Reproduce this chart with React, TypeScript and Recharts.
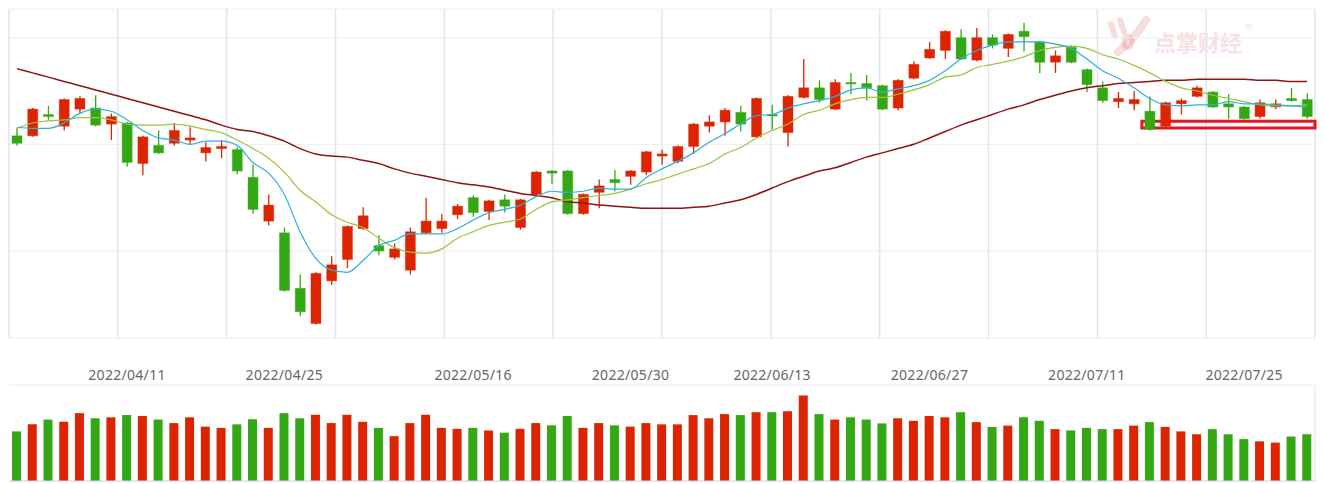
import React from 'react';
import { ComposedChart, Bar, Line, XAxis, YAxis, CartesianGrid, ReferenceArea, ReferenceLine, Cell } from 'recharts';

// trading days shown in the window
const dates = [
  '2022/03/29', '2022/03/30', '2022/03/31', '2022/04/01', '2022/04/06', '2022/04/07', '2022/04/08',
  '2022/04/11', '2022/04/12', '2022/04/13', '2022/04/14', '2022/04/15',
  '2022/04/18', '2022/04/19', '2022/04/20', '2022/04/21', '2022/04/22',
  '2022/04/25', '2022/04/26', '2022/04/27', '2022/04/28', '2022/04/29',
  '2022/05/05', '2022/05/06',
  '2022/05/09', '2022/05/10', '2022/05/11', '2022/05/12', '2022/05/13',
  '2022/05/16', '2022/05/17', '2022/05/18', '2022/05/19', '2022/05/20',
  '2022/05/23', '2022/05/24', '2022/05/25', '2022/05/26', '2022/05/27',
  '2022/05/30', '2022/05/31', '2022/06/01', '2022/06/02',
  '2022/06/06', '2022/06/07', '2022/06/08', '2022/06/09', '2022/06/10',
  '2022/06/13', '2022/06/14', '2022/06/15', '2022/06/16', '2022/06/17',
  '2022/06/20', '2022/06/21', '2022/06/22', '2022/06/23', '2022/06/24',
  '2022/06/27', '2022/06/28', '2022/06/29', '2022/06/30', '2022/07/01',
  '2022/07/04', '2022/07/05', '2022/07/06', '2022/07/07', '2022/07/08',
  '2022/07/11', '2022/07/12', '2022/07/13', '2022/07/14', '2022/07/15',
  '2022/07/18', '2022/07/19', '2022/07/20', '2022/07/21', '2022/07/22',
  '2022/07/25', '2022/07/26', '2022/07/27', '2022/07/28', '2022/07/29',
];

const tickDates = ['2022/04/11', '2022/04/25', '2022/05/16', '2022/05/30', '2022/06/13', '2022/06/27', '2022/07/11', '2022/07/25'];

const open = [
  11.08, 11.08, 11.28, 11.17, 11.33, 11.34, 11.19, 11.20, 10.82, 10.99,
  11.01, 11.04, 10.92, 10.96, 10.95, 10.69, 10.28, 10.17, 9.65, 9.32,
  9.72, 9.92, 10.21, 10.05, 9.94, 9.82, 10.17, 10.21, 10.34, 10.50,
  10.37, 10.48, 10.22, 10.53, 10.75, 10.75, 10.35, 10.55, 10.67, 10.70,
  10.74, 10.89, 10.84, 10.98, 11.17, 11.21, 11.30, 11.07, 11.28, 11.11,
  11.44, 11.53, 11.33, 11.58, 11.57, 11.55, 11.34, 11.62, 11.81, 11.88,
  12.00, 11.79, 12.00, 11.90, 12.06, 11.96, 11.77, 11.91, 11.70, 11.53,
  11.40, 11.38, 11.31, 11.17, 11.38, 11.45, 11.49, 11.38, 11.35, 11.26,
  11.35, 11.43, 11.42,
];

const high = [
  11.15, 11.34, 11.36, 11.43, 11.45, 11.46, 11.29, 11.21, 11.08, 11.13,
  11.20, 11.16, 11.02, 11.04, 10.97, 10.81, 10.53, 10.22, 9.78, 9.80,
  9.95, 10.24, 10.41, 10.15, 10.07, 10.22, 10.50, 10.35, 10.44, 10.52,
  10.48, 10.53, 10.49, 10.75, 10.76, 10.76, 10.54, 10.67, 10.76, 10.76,
  10.94, 10.95, 10.99, 11.20, 11.27, 11.34, 11.36, 11.44, 11.37, 11.46,
  11.80, 11.60, 11.61, 11.67, 11.65, 11.56, 11.61, 11.78, 11.96, 12.07,
  12.08, 12.09, 12.03, 12.04, 12.14, 11.97, 11.88, 11.93, 11.71, 11.59,
  11.49, 11.50, 11.45, 11.40, 11.43, 11.55, 11.50, 11.47, 11.36, 11.42,
  11.42, 11.53, 11.48,
];

const low = [
  10.99, 11.07, 11.23, 11.13, 11.29, 11.17, 11.04, 10.79, 10.71, 10.91,
  10.99, 11.00, 10.84, 10.87, 10.72, 10.35, 10.24, 9.62, 9.39, 9.31,
  9.68, 9.84, 10.20, 9.96, 9.92, 9.78, 10.16, 10.17, 10.30, 10.32,
  10.29, 10.36, 10.20, 10.52, 10.63, 10.34, 10.34, 10.40, 10.56, 10.62,
  10.71, 10.81, 10.82, 10.91, 11.11, 11.08, 11.12, 11.06, 11.14, 10.98,
  11.43, 11.39, 11.32, 11.47, 11.41, 11.32, 11.32, 11.61, 11.80, 11.80,
  11.79, 11.78, 11.90, 11.82, 11.87, 11.67, 11.67, 11.76, 11.49, 11.39,
  11.34, 11.32, 11.13, 11.15, 11.28, 11.44, 11.34, 11.24, 11.23, 11.24,
  11.33, 11.40, 11.24,
];

const close = [
  11.01, 11.33, 11.26, 11.42, 11.43, 11.18, 11.26, 10.83, 11.07, 10.92,
  11.13, 11.06, 10.97, 10.98, 10.75, 10.39, 10.43, 9.63, 9.43, 9.79,
  9.87, 10.23, 10.33, 10.00, 10.02, 10.18, 10.28, 10.28, 10.42, 10.36,
  10.47, 10.42, 10.48, 10.74, 10.73, 10.35, 10.53, 10.61, 10.64, 10.75,
  10.93, 10.91, 10.98, 11.19, 11.21, 11.32, 11.19, 11.43, 11.27, 11.45,
  11.53, 11.42, 11.58, 11.57, 11.53, 11.33, 11.60, 11.75, 11.89, 12.06,
  11.80, 12.00, 11.93, 12.03, 12.01, 11.77, 11.83, 11.77, 11.56, 11.41,
  11.43, 11.42, 11.14, 11.39, 11.41, 11.53, 11.35, 11.35, 11.24, 11.39,
  11.38, 11.41, 11.26,
];

const ma5 = [
  11.16, 11.15, 11.15, 11.20, 11.29, 11.33, 11.31, 11.23, 11.13, 11.06,
  11.04, 11.00, 11.03, 11.03, 10.99, 10.83, 10.73, 10.53, 10.18, 9.93,
  9.82, 9.80, 9.91, 10.05, 10.10, 10.16, 10.16, 10.16, 10.21, 10.29,
  10.36, 10.39, 10.43, 10.51, 10.56, 10.55, 10.56, 10.59, 10.58, 10.58,
  10.69, 10.77, 10.84, 10.92, 11.02, 11.10, 11.19, 11.27, 11.28, 11.34,
  11.38, 11.41, 11.45, 11.51, 11.53, 11.49, 11.52, 11.55, 11.60, 11.69,
  11.80, 11.88, 11.93, 11.96, 11.96, 11.96, 11.94, 11.90, 11.80, 11.69,
  11.62, 11.53, 11.43, 11.37, 11.36, 11.37, 11.37, 11.40, 11.38, 11.38,
  11.37, 11.36, 11.35,
];

const ma10 = [
  11.15, 11.20, 11.22, 11.23, 11.25, 11.25, 11.23, 11.19, 11.18, 11.18,
  11.19, 11.17, 11.14, 11.11, 11.04, 10.96, 10.87, 10.74, 10.57, 10.46,
  10.34, 10.27, 10.22, 10.12, 10.03, 9.99, 9.98, 10.02, 10.12, 10.18,
  10.24, 10.27, 10.30, 10.39, 10.46, 10.48, 10.50, 10.52, 10.54, 10.58,
  10.63, 10.67, 10.72, 10.77, 10.82, 10.91, 10.97, 11.06, 11.13, 11.19,
  11.28, 11.32, 11.38, 11.42, 11.44, 11.44, 11.47, 11.51, 11.56, 11.63,
  11.65, 11.72, 11.75, 11.78, 11.82, 11.88, 11.91, 11.92, 11.90, 11.84,
  11.80, 11.74, 11.67, 11.59, 11.53, 11.50, 11.46, 11.43, 11.40, 11.37,
  11.36, 11.36, 11.37,
];

const ma60 = [
  11.71, 11.67, 11.63, 11.59, 11.55, 11.51, 11.47, 11.43, 11.39, 11.35,
  11.31, 11.27, 11.23, 11.18, 11.14, 11.12, 11.08, 11.03, 10.96, 10.91,
  10.89, 10.88, 10.85, 10.82, 10.77, 10.73, 10.70, 10.67, 10.64, 10.62,
  10.60, 10.57, 10.54, 10.52, 10.50, 10.46, 10.45, 10.43, 10.42, 10.41,
  10.40, 10.40, 10.40, 10.41, 10.42, 10.45, 10.48, 10.53, 10.59, 10.65,
  10.70, 10.75, 10.78, 10.83, 10.88, 10.92, 10.96, 11.00, 11.06, 11.12,
  11.18, 11.23, 11.28, 11.33, 11.37, 11.42, 11.46, 11.50, 11.53, 11.55,
  11.57, 11.58, 11.59, 11.60, 11.60, 11.61, 11.61, 11.61, 11.61, 11.60,
  11.60, 11.59, 11.59,
];

const volume = [
  155, 177, 192, 185, 212, 196, 199, 206, 203, 192,
  181, 199, 170, 166, 177, 193, 166, 212, 196, 207,
  181, 207, 185, 166, 140, 181, 207, 166, 163, 166,
  158, 151, 163, 181, 174, 203, 166, 181, 174, 170,
  181, 177, 177, 206, 196, 209, 206, 215, 215, 218,
  267, 209, 192, 199, 192, 180, 196, 188, 203, 199,
  215, 184, 169, 173, 199, 188, 162, 158, 166, 162,
  162, 173, 184, 169, 155, 146, 162, 146, 131, 124,
  120, 139, 146,
];

const RED = '#dd2400';
const GREEN = '#33a814';
const FONT = "'Noto Sans', 'DejaVu Sans', sans-serif";

const data = dates.map((date, i) => ({
  date,
  open: open[i],
  high: high[i],
  low: low[i],
  close: close[i],
  ma5: ma5[i],
  ma10: ma10[i],
  ma60: ma60[i],
  volume: volume[i],
  up: close[i] >= open[i],
}));

// candle drawn inside the low..high range bar
const Candle = (props: any) => {
  const { x, y, width, height } = props;
  const d = props.payload ?? props;
  if (height == null || d.high === d.low) return null;
  const color = d.close >= d.open ? RED : GREEN;
  const k = height / (d.high - d.low);
  const top = y + (d.high - Math.max(d.open, d.close)) * k;
  const h = Math.max(Math.abs(d.open - d.close) * k, 1.5);
  const cx = x + width / 2;
  return (
    <g>
      <line x1={cx} x2={cx} y1={y} y2={y + height} stroke={color} strokeWidth={1.3} />
      <rect x={x} y={top} width={width} height={h} fill={color} stroke={color} strokeOpacity={0.4} strokeWidth={1} />
    </g>
  );
};

const Watermark = () => (
  <div style={{ position: 'absolute', left: 1106, top: 14, display: 'flex', alignItems: 'center', color: 'rgba(214,90,90,0.2)' }}>
    <svg width={46} height={44} viewBox="0 0 46 44">
      <g stroke="rgba(214,90,90,0.2)" strokeLinecap="round" fill="none">
        <line x1={5} y1={10} x2={9} y2={22} strokeWidth={6} />
        <line x1={14} y1={6} x2={18} y2={18} strokeWidth={6} />
        <path d="M40 6 C 32 20, 22 30, 12 38" strokeWidth={8} />
        <ellipse cx={22} cy={28} rx={4} ry={6} strokeWidth={5} />
      </g>
    </svg>
    <span style={{ fontFamily: "'Noto Sans CJK SC', sans-serif", fontSize: 22, fontWeight: 700, marginLeft: 2, marginTop: 10 }}>点掌财经</span>
    <span style={{ fontFamily: FONT, fontSize: 10, alignSelf: 'flex-start', marginTop: 6, marginLeft: 2 }}>®</span>
  </div>
);

export default function App() {
  return (
    <div style={{ position: 'absolute', left: 0, top: 0, width: 1325, height: 484, background: '#fff', fontFamily: FONT }}>
      <Watermark />
      <div style={{ position: 'absolute', left: 0, top: 0 }}>
        <ComposedChart width={1325} height={340} data={data} margin={{ top: 9, right: 10, bottom: 2, left: 9 }}>
          <CartesianGrid vertical={false} stroke="#eaeef4" />
          <CartesianGrid
            horizontal={false}
            stroke="#e0e6ee"
            strokeWidth={1.5}
            verticalCoordinatesGenerator={({ offset }: any) =>
              Array.from({ length: 13 }, (_, k) => offset.left + (offset.width * k) / 12)
            }
          />
          <XAxis dataKey="date" hide />
          <YAxis hide domain={[9.184, 12.269]} ticks={[10, 11, 12]} allowDataOverflow />
          <Bar dataKey={(d: any) => [d.low, d.high]} barSize={10} shape={(p: any) => <Candle {...p} />} isAnimationActive={false} />
          <Line type="monotone" dataKey="ma60" stroke="#8e1414" strokeWidth={1.5} dot={false} activeDot={false} isAnimationActive={false} />
          <Line type="monotone" dataKey="ma10" stroke="#9cc33c" strokeWidth={1.2} dot={false} activeDot={false} isAnimationActive={false} />
          <Line type="monotone" dataKey="ma5" stroke="#2db0d8" strokeWidth={1.2} dot={false} activeDot={false} isAnimationActive={false} />
          <ReferenceArea
            x1={dates[72]}
            x2={dates[82]}
            y1={11.153}
            y2={11.216}
            fill="none"
            fillOpacity={0}
            stroke="#e8141f"
            strokeWidth={3}
            ifOverflow="visible"
          />
        </ComposedChart>
      </div>
      <div style={{ position: 'absolute', left: 0, top: 340 }}>
        <ComposedChart width={1325} height={144} data={data} margin={{ top: 15, right: 10, bottom: 3, left: 9 }}>
          <CartesianGrid vertical={false} stroke="#e8ecf3" />
          <CartesianGrid
            horizontal={false}
            stroke="#dde3ec"
            verticalCoordinatesGenerator={({ offset }: any) => [offset.left + offset.width]}
          />
          <XAxis
            dataKey="date"
            orientation="top"
            height={30}
            ticks={tickDates}
            interval={0}
            axisLine={false}
            tickLine={false}
            tickSize={0}
            tickMargin={5}
            tick={{ fontSize: 14, fill: '#666', fontFamily: FONT, letterSpacing: 0.3 }}
          />
          <YAxis width={0} domain={[0, 300]} ticks={[0, 100, 200, 300]} tick={false} tickLine={false} axisLine={{ stroke: '#d3dbe8' }} allowDataOverflow />
          <ReferenceLine y={0} stroke="#d3dbe8" />
          <Bar dataKey="volume" barSize={9} isAnimationActive={false}>
            {data.map((d) => (
              <Cell key={d.date} fill={d.up ? RED : GREEN} />
            ))}
          </Bar>
        </ComposedChart>
      </div>
    </div>
  );
}
